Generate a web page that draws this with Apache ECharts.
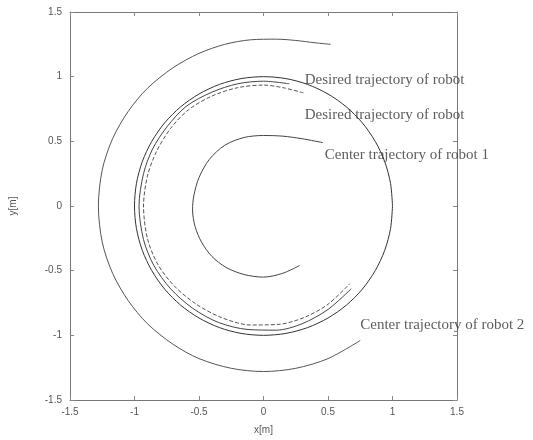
<!DOCTYPE html>
<html>
<head>
<meta charset="utf-8">
<script src="https://cdn.jsdelivr.net/npm/echarts@6/dist/echarts.min.js"></script>
<style>
  html, body { margin: 0; padding: 0; background: #fff; }
  #traj { width: 533px; height: 440px; }
</style>
</head>
<body>
<div id="traj"></div>
<script>
  // axis ticks
  const tickMin = -1.5, tickMax = 1.5, tickStep = 0.5;

  // desired circle (r = 1), points every 10 degrees
  const desiredPath = [
    [1.0, 0.0], [0.985, 0.174], [0.94, 0.342], [0.866, 0.5], [0.766, 0.643],
    [0.643, 0.766], [0.5, 0.866], [0.342, 0.94], [0.174, 0.985], [0.0, 1.0],
    [-0.174, 0.985], [-0.342, 0.94], [-0.5, 0.866], [-0.643, 0.766], [-0.766, 0.643],
    [-0.866, 0.5], [-0.94, 0.342], [-0.985, 0.174], [-1.0, 0.0],
    [-0.985, -0.174], [-0.94, -0.342], [-0.866, -0.5], [-0.766, -0.643], [-0.643, -0.766],
    [-0.5, -0.866], [-0.342, -0.94], [-0.174, -0.985], [0.0, -1.0],
    [0.174, -0.985], [0.342, -0.94], [0.5, -0.866], [0.643, -0.766], [0.766, -0.643],
    [0.866, -0.5], [0.94, -0.342], [0.985, -0.174], [1.0, 0.0]
  ];

  // actual trajectories hugging the desired circle
  const robot1Path = [
    [0.2, 0.945], [0.0, 0.965], [-0.2, 0.945], [-0.4, 0.88], [-0.6, 0.77],
    [-0.75, 0.61], [-0.86, 0.44], [-0.93, 0.25], [-0.965, 0.0], [-0.93, -0.26],
    [-0.85, -0.46], [-0.72, -0.64], [-0.55, -0.79], [-0.35, -0.9], [-0.12, -0.955],
    [0.1, -0.96], [0.3, -0.91], [0.5, -0.8], [0.68, -0.64]
  ];
  const robot2Path = [
    [0.31, 0.875], [0.15, 0.915], [0.0, 0.935], [-0.2, 0.915], [-0.4, 0.85],
    [-0.58, 0.745], [-0.72, 0.6], [-0.83, 0.42], [-0.9, 0.23], [-0.93, 0.0],
    [-0.9, -0.25], [-0.82, -0.45], [-0.69, -0.62], [-0.52, -0.76], [-0.32, -0.865],
    [-0.1, -0.92], [0.12, -0.915], [0.32, -0.86], [0.5, -0.76], [0.67, -0.6]
  ];

  // centre trajectories
  const center1Path = [
    [0.46, 0.49], [0.3, 0.52], [0.15, 0.54], [0.0, 0.545], [-0.15, 0.53],
    [-0.3, 0.47], [-0.42, 0.36], [-0.5, 0.22], [-0.54, 0.08], [-0.55, -0.03],
    [-0.53, -0.16], [-0.48, -0.28], [-0.4, -0.39], [-0.29, -0.475], [-0.15, -0.53],
    [0.0, -0.55], [0.15, -0.52], [0.28, -0.46]
  ];
  const center2Path = [
    [0.52, 1.25], [0.4, 1.262], [0.25, 1.28], [0.1, 1.29], [-0.1, 1.285],
    [-0.3, 1.25], [-0.5, 1.18], [-0.7, 1.07], [-0.9, 0.91], [-1.05, 0.73],
    [-1.17, 0.52], [-1.25, 0.28], [-1.28, 0.0], [-1.25, -0.28], [-1.17, -0.52],
    [-1.05, -0.73], [-0.9, -0.91], [-0.7, -1.07], [-0.5, -1.18], [-0.25, -1.255],
    [0.0, -1.28], [0.25, -1.255], [0.5, -1.18], [0.75, -1.04]
  ];

  // annotations
  const noteTexts = [
    'Desired trajectory of robot',
    'Desired trajectory of robot',
    'Center trajectory of robot 1',
    'Center trajectory of robot 2'
  ];
  const notePos = [[0.32, 0.975], [0.32, 0.7], [0.475, 0.395], [0.75, -0.92]];

  let chart = echarts.init(document.getElementById('traj'));

  const axisBase = {
    type: 'value',
    min: tickMin,
    max: tickMax,
    interval: tickStep,
    splitLine: { show: false },
    axisLine: { show: true, onZero: false, lineStyle: { color: '#777', width: 1 } },
    axisTick: { show: true, inside: true, length: 4, lineStyle: { color: '#888' } }
  };
  const labelStyle = { color: '#555', fontSize: 10, fontFamily: 'Liberation Sans, Arial, sans-serif' };

  function curve(data, color, type, smooth) {
    return {
      type: 'line',
      data: data,
      smooth: smooth,
      symbol: 'none',
      silent: true,
      lineStyle: { color: color, width: 1, type: type || 'solid' }
    };
  }

  const option = {
    animation: false,
    backgroundColor: '#fff',
    grid: { left: 70, top: 12, right: 76, bottom: 40 },
    xAxis: [
      Object.assign({}, axisBase, {
        position: 'bottom',
        name: 'x[m]',
        nameLocation: 'middle',
        nameGap: 25,
        nameTextStyle: labelStyle,
        axisLabel: Object.assign({ margin: 7 }, labelStyle)
      }),
      Object.assign({}, axisBase, { position: 'top', axisLabel: { show: false } })
    ],
    yAxis: [
      Object.assign({}, axisBase, {
        position: 'left',
        name: 'y[m]',
        nameLocation: 'middle',
        nameGap: 52,
        nameRotate: 90,
        nameTextStyle: labelStyle,
        axisLabel: Object.assign({ margin: 8 }, labelStyle)
      }),
      Object.assign({}, axisBase, { position: 'right', axisLabel: { show: false } })
    ],
    series: [
      curve(desiredPath, '#333', 'solid', 0.3),
      curve(robot1Path, '#444', 'solid', 0.3),
      curve(robot2Path, '#555', [4, 2], 0.3),
      curve(center1Path, '#444', 'solid', 0.3),
      curve(center2Path, '#555', 'solid', 0.3),
      {
        type: 'scatter',
        symbolSize: 0,
        silent: true,
        data: notePos.map((p, i) => ({ value: p, name: noteTexts[i] })),
        label: {
          show: true,
          position: 'right',
          distance: 0,
          formatter: '{b}',
          color: '#333',
          fontSize: 15,
          fontFamily: 'Liberation Serif, Times New Roman, serif'
        }
      }
    ]
  };
  chart.setOption(option);
  window.addEventListener('resize', function() {
    chart.resize();
  });
</script>
</body>
</html>
